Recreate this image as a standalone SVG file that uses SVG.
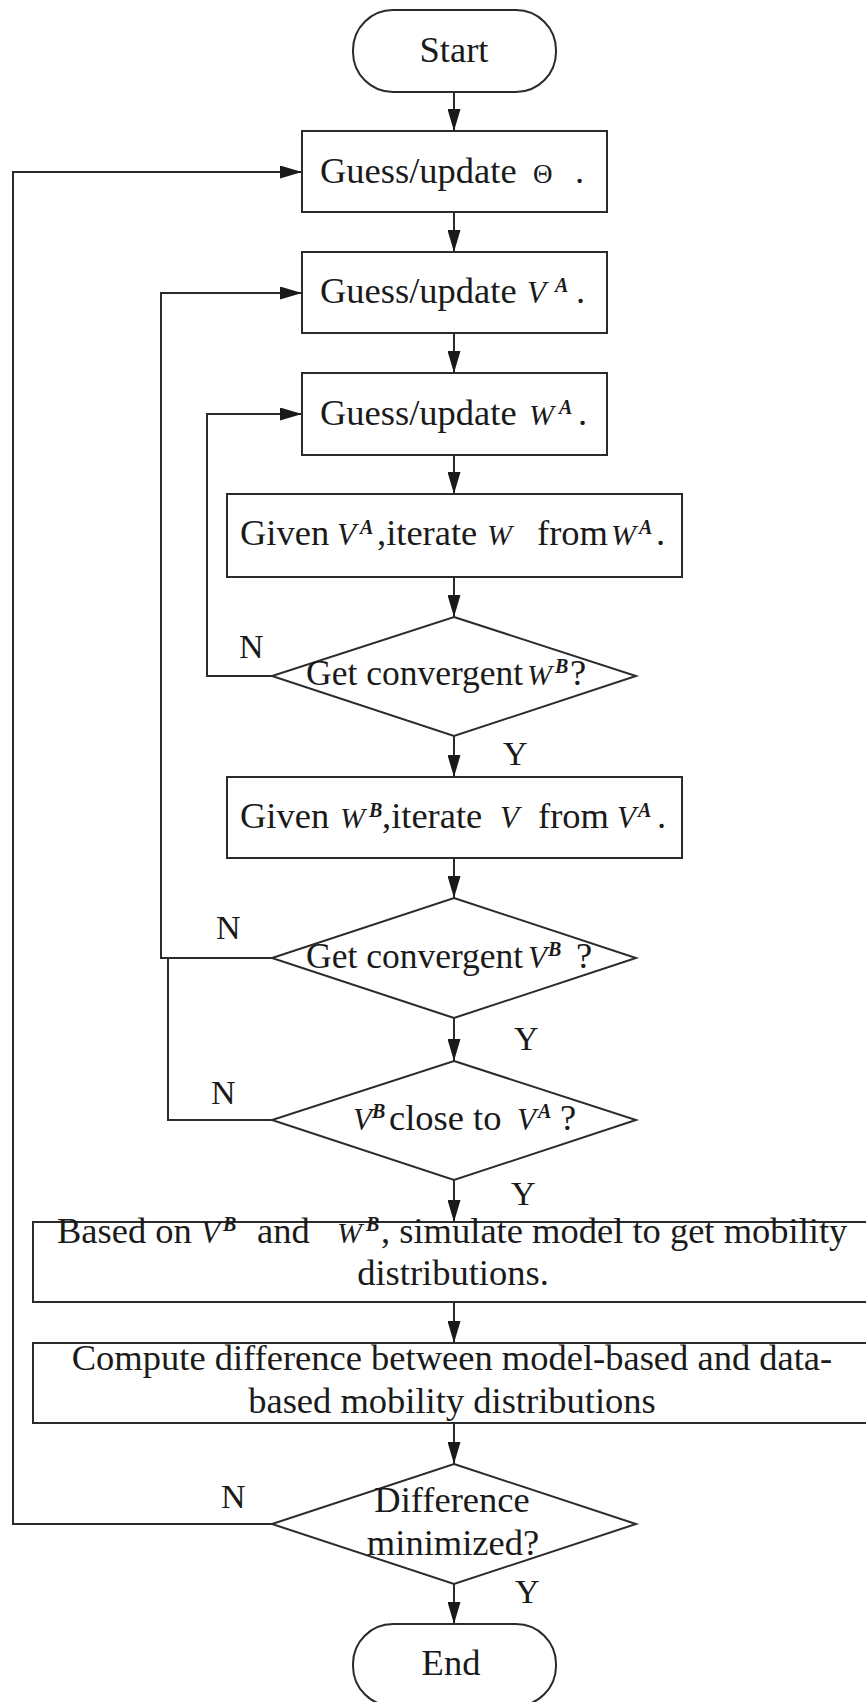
<svg xmlns="http://www.w3.org/2000/svg" width="866" height="1702" viewBox="0 0 866 1702">
<style>
.shape { fill: #ffffff; stroke: #2b2b2b; stroke-width: 2; }
.conn { fill: none; stroke: #2b2b2b; stroke-width: 2; }
.t { font-family: "Liberation Serif", "Times New Roman", serif; font-size: 36.5px; fill: #1a1a1a; }
.m { text-anchor: middle; }
.v { font-style: italic; font-size: 31px; }
.w { font-style: italic; font-size: 30px; }
.s { font-style: italic; font-weight: bold; font-size: 20px; }
.th { font-size: 27px; }
.gc { font-size: 35.5px; }
.lbl { font-family: "Liberation Serif", "Times New Roman", serif; font-size: 34px; fill: #1a1a1a; }
</style>
<defs>
<marker id="arr" markerUnits="userSpaceOnUse" markerWidth="22" markerHeight="13" refX="22" refY="6.5" orient="auto">
<path d="M0,0 L22,6.5 L0,13 Z" fill="#1a1a1a"/>
</marker>
</defs>
<rect width="866" height="1702" fill="#ffffff"/>

<g id="connectors">
<path class="conn" d="M454,92 V131" marker-end="url(#arr)"/>
<path class="conn" d="M454,212 V252" marker-end="url(#arr)"/>
<path class="conn" d="M454,333 V373" marker-end="url(#arr)"/>
<path class="conn" d="M454,455 V494" marker-end="url(#arr)"/>
<path class="conn" d="M454,577 V617" marker-end="url(#arr)"/>
<path class="conn" d="M454,736 V777" marker-end="url(#arr)"/>
<path class="conn" d="M454,858 V898" marker-end="url(#arr)"/>
<path class="conn" d="M454,1018 V1061" marker-end="url(#arr)"/>
<path class="conn" d="M454,1180 V1222" marker-end="url(#arr)"/>
<path class="conn" d="M454,1302 V1343" marker-end="url(#arr)"/>
<path class="conn" d="M454,1423 V1464" marker-end="url(#arr)"/>
<path class="conn" d="M454,1584 V1624" marker-end="url(#arr)"/>
<path class="conn" d="M272,676 H207 V414 H302" marker-end="url(#arr)"/>
<path class="conn" d="M272,958 H161 V293 H302" marker-end="url(#arr)"/>
<path class="conn" d="M272,1120 H168 V958"/>
<path class="conn" d="M272,1524 H13 V172 H302" marker-end="url(#arr)"/>
<text class="lbl" x="239" y="658">N</text>
<text class="lbl" x="503" y="765">Y</text>
<text class="lbl" x="216" y="939">N</text>
<text class="lbl" x="514" y="1050">Y</text>
<text class="lbl" x="211" y="1104">N</text>
<text class="lbl" x="511" y="1205">Y</text>
<text class="lbl" x="221" y="1508">N</text>
<text class="lbl" x="515" y="1603">Y</text>
</g>

<g id="start">
<rect class="shape" x="353" y="10" width="203" height="82" rx="40" ry="40"/>
<text class="t m" x="454" y="62">Start</text>
</g>

<g id="guess-theta">
<rect class="shape" x="302" y="131" width="305" height="81"/>
<text class="t" y="183"><tspan x="320">Guess/update</tspan><tspan class="th" x="533">Θ</tspan><tspan x="575">.</tspan></text>
</g>

<g id="guess-va">
<rect class="shape" x="302" y="252" width="305" height="81"/>
<text class="t" y="303"><tspan x="320">Guess/update</tspan><tspan class="v" x="527">V</tspan><tspan class="s" x="555" y="292">A</tspan><tspan x="576" y="303">.</tspan></text>
</g>

<g id="guess-wa">
<rect class="shape" x="302" y="373" width="305" height="82"/>
<text class="t" y="425"><tspan x="320">Guess/update</tspan><tspan class="w" x="529">W</tspan><tspan class="s" x="559" y="414">A</tspan><tspan x="578" y="425">.</tspan></text>
</g>

<g id="iterate-w">
<rect class="shape" x="227" y="494" width="455" height="83"/>
<text class="t" y="545"><tspan x="240">Given</tspan><tspan class="v" x="337">V</tspan><tspan class="s" x="360" y="534">A</tspan><tspan x="377" y="545">,iterate</tspan><tspan class="w" x="487">W</tspan><tspan x="537">from</tspan><tspan class="w" x="611">W</tspan><tspan class="s" x="639" y="534">A</tspan><tspan x="656" y="545">.</tspan></text>
</g>

<g id="conv-w">
<polygon class="shape" points="454,617 636,676 454,736 272,676"/>
<text class="t" y="685"><tspan class="gc" x="306">Get convergent</tspan><tspan class="w" x="527">W</tspan><tspan class="s" x="555" y="673">B</tspan><tspan x="570" y="685">?</tspan></text>
</g>

<g id="iterate-v">
<rect class="shape" x="227" y="777" width="455" height="81"/>
<text class="t" y="828"><tspan x="240">Given</tspan><tspan class="w" x="340">W</tspan><tspan class="s" x="369" y="817">B</tspan><tspan x="382" y="828">,iterate</tspan><tspan class="v" x="500">V</tspan><tspan x="538">from</tspan><tspan class="v" x="617">V</tspan><tspan class="s" x="638" y="817">A</tspan><tspan x="657" y="828">.</tspan></text>
</g>

<g id="conv-v">
<polygon class="shape" points="454,898 636,958 454,1018 272,958"/>
<text class="t" y="968"><tspan class="gc" x="306">Get convergent</tspan><tspan class="v" x="528">V</tspan><tspan class="s" x="548" y="956">B</tspan><tspan x="576" y="968">?</tspan></text>
</g>

<g id="close">
<polygon class="shape" points="454,1061 636,1120 454,1180 272,1120"/>
<text class="t" y="1130"><tspan class="v" x="353">V</tspan><tspan class="s" x="372" y="1118">B</tspan><tspan x="389" y="1130">close to</tspan><tspan class="v" x="517">V</tspan><tspan class="s" x="538" y="1118">A</tspan><tspan x="560" y="1130">?</tspan></text>
</g>

<g id="simulate">
<rect class="shape" x="33" y="1222" width="843" height="80"/>
<text class="t" y="1243"><tspan x="57">Based on</tspan><tspan class="v" x="201">V</tspan><tspan class="s" x="223" y="1231">B</tspan><tspan x="257" y="1243">and</tspan><tspan class="w" x="337">W</tspan><tspan class="s" x="366" y="1231">B</tspan><tspan x="381" y="1243">, simulate model to get mobility</tspan></text>
<text class="t m" x="453" y="1285">distributions.</text>
</g>

<g id="compute">
<rect class="shape" x="33" y="1343" width="843" height="80"/>
<text class="t m" x="452" y="1370">Compute difference between model-based and data-</text>
<text class="t m" x="452" y="1413">based mobility distributions</text>
</g>

<g id="minimized">
<polygon class="shape" points="454,1464 636,1524 454,1584 272,1524"/>
<text class="t m" x="452" y="1512">Difference</text>
<text class="t m" x="453" y="1555">minimized?</text>
</g>

<g id="end">
<rect class="shape" x="353" y="1624" width="203" height="82" rx="40" ry="40"/>
<text class="t m" x="451" y="1675">End</text>
</g>
</svg>
